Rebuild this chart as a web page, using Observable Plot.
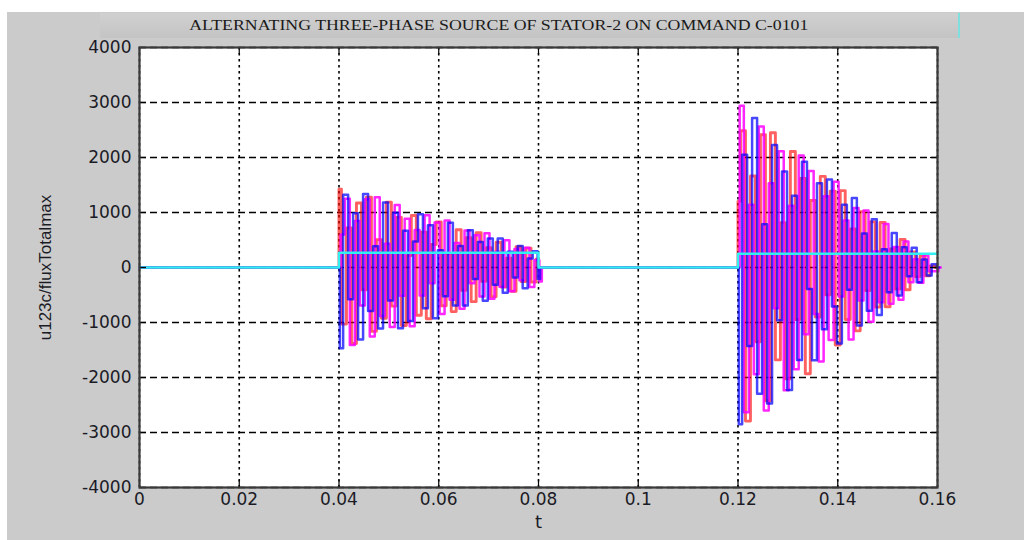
<!DOCTYPE html>
<html>
<head>
<meta charset="utf-8">
<script src="https://cdn.jsdelivr.net/npm/d3@7"></script>
<script src="https://cdn.jsdelivr.net/npm/@observablehq/plot@0.6"></script>
<style>
  html, body { margin: 0; padding: 0; background: #ffffff; }
  #fig { position: relative; width: 1024px; height: 540px; overflow: hidden; background: #ffffff; }
  #panel { position: absolute; left: 7px; top: 12px; right: 0; bottom: 0; background: #cbcbcb; }
  #titlebox { position: absolute; left: 100px; top: 13px; width: 860px; height: 25px;
    background: linear-gradient(#d0d0d0, #c4c4c4); border-right: 2px solid #7fdede; box-sizing: border-box;
    display: flex; align-items: center; justify-content: center; }
  #title { font-family: "Liberation Serif", "DejaVu Serif", serif; font-size: 14px; color: #1a1a1a;
    display: inline-block; transform: scaleX(1.27); transform-origin: center; white-space: nowrap; margin-left: -60px; }
  #chart { position: absolute; left: 0; top: 30px; }
</style>
</head>
<body>
<div id="fig">
  <div id="panel"></div>
  <div id="titlebox"><span id="title">ALTERNATING THREE-PHASE SOURCE OF STATOR-2 ON COMMAND C-0101</span></div>
  <div id="chart"></div>
</div>
<script>
// ---- axis ticks ----
const xTicks = [0, 0.02, 0.04, 0.06, 0.08, 0.1, 0.12, 0.14, 0.16];
const yTicks = [-4000, -3000, -2000, -1000, 0, 1000, 2000, 3000, 4000];

// ---- sampling of the two bursts ----
const burst1Start = 0.04;
const burst2Start = 0.12;
const sampleStep = 0.001;
const phaseShift = { A: 0, B: 0.00033, C: 0.00067 };

// ---- phase values, burst 1 (0.04 .. 0.08) ----
const phaseA1 = [1425, -1029, 720, -1382, 1173, -405, 1280, -1161, 504, -923, 1188, -702, 912, -1055, 216, 945, -867, 644, -931, 419, 828, -696, 252, -802, 686, -413, 540, -621, 634, -252, 360, -530, 459, -357, 168, -432, 378, -254, 353, -264, 150];
const phaseB1 = [-1470, 1323, -576, 987, -1311, 1337, -792, 387, -1109, 1181, -600, 995, -1106, 666, -972, 473, 969, -743, 768, -921, 315, -522, 815, -689, 390, -690, 677, -207, 462, -605, 528, -314, 529, -459, 288, -180, 391, -378, 162, 297, -210];
const phaseC1 = [600, 1250, -1411, 846, -690, 1242, -1254, 1277, -882, 431, -1080, 1135, -513, 888, -1069, 683, -510, 950, -288, 818, -846, 853, -588, 446, -749, 675, -288, 587, -528, 624, -570, 285, -351, 495, -432, 338, -231, 359, -356, 132, -255];

// ---- phase values, burst 2 (0.12 .. 0.16) ----
const phaseA2 = [1200, 2486, -2793, 1665, -1350, 2415, -2423, 2450, -1680, 814, -2025, 2110, -945, 1620, -1931, 1219, -900, 1656, -495, 1386, -1410, 1397, -945, 701, -1152, 1013, -420, 829, -720, 817, -713, 338, -390, 509, -405, 281, -165, 207, -149, 30, 0];
const phaseB2 = [-2850, 2048, -1425, 2720, -2295, 788, -2474, 2228, -960, 1744, -2228, 1305, -1680, 1924, -390, -1688, 1530, -1121, 1601, -709, -1380, 1140, -405, 1262, -1056, 619, -788, 878, -864, 330, -450, 628, -510, 368, -158, 360, -270, 146, -147, 60, 0];
const phaseC2 = [2940, -2633, 1140, -1943, 2565, -2599, 1530, -743, 2112, -2232, 1125, -1849, 2037, -1215, 1755, -844, -1710, 1294, -1320, 1559, -525, 855, -1310, 1084, -600, 1035, -987, 293, -630, 792, -660, 371, -588, 473, -270, 150, -279, 218, -68, -68, 0];

// ---- cyan trace (flux total max level) ----
const fluxT = [0, 0.04, 0.04, 0.08, 0.08, 0.12, 0.12, 0.16];
const fluxV = [0, 0, 270, 270, 0, 0, 250, 250];

function phaseRows(b1, b2, shift) {
  const rows = [{ t: 0, v: 0 }, { t: burst1Start, v: 0 }];
  b1.forEach((v, k) => rows.push({ t: burst1Start + k * sampleStep + shift, v }));
  rows.push({ t: rows[rows.length - 1].t, v: 0 });
  rows.push({ t: burst2Start, v: 0 });
  b2.forEach((v, k) => rows.push({ t: burst2Start + k * sampleStep + shift, v }));
  return rows;
}
const rowsA = phaseRows(phaseA1, phaseA2, phaseShift.A);
const rowsB = phaseRows(phaseB1, phaseB2, phaseShift.B);
const rowsC = phaseRows(phaseC1, phaseC2, phaseShift.C);
const fluxRows = fluxT.map((t, i) => ({ t, v: fluxV[i] }));

const W = 1024, H = 510, ML = 139, MR = 87, MT = 17, MB = 53;
const innerW = W - ML - MR, innerH = H - MT - MB, tickLen = 7;

const chart = Plot.plot({
  width: W, height: H,
  marginLeft: ML, marginRight: MR, marginTop: MT, marginBottom: MB,
  style: { background: "transparent", fontFamily: "DejaVu Sans, sans-serif", fontSize: "17px", color: "#1b1b26" },
  x: { domain: [0, 0.16], ticks: xTicks, tickSize: 0, tickPadding: 5, tickFormat: d => String(d), label: null },
  y: { domain: [-4000, 4000], ticks: yTicks, tickSize: 0, tickPadding: 8, tickFormat: d => String(d), label: null },
  marks: [
    Plot.frame({ fill: "white" }),
    Plot.ruleX(xTicks, { x: d => d, stroke: "black", strokeWidth: 1.6, strokeDasharray: "2.5,3.5" }),
    Plot.ruleY(yTicks, { y: d => d, stroke: "black", strokeWidth: 1.3, strokeDasharray: "7,4" }),
    Plot.line(rowsA, { x: "t", y: "v", curve: "step", stroke: "#ff0000", strokeWidth: 2.9, strokeOpacity: 0.62 }),
    Plot.line(rowsC, { x: "t", y: "v", curve: "step", stroke: "#ff00ff", strokeWidth: 2.5, strokeOpacity: 0.85 }),
    Plot.line(rowsB, { x: "t", y: "v", curve: "step", stroke: "#0000ff", strokeWidth: 2.5, strokeOpacity: 0.72 }),
    Plot.line(fluxRows, { x: "t", y: "v", stroke: "#33f0f0", strokeWidth: 2.5 }),
    Plot.tickX(xTicks, { x: d => d, stroke: "black", strokeWidth: 1.2, insetTop: innerH - tickLen }),
    Plot.tickX(xTicks, { x: d => d, stroke: "black", strokeWidth: 1.2, insetBottom: innerH - tickLen }),
    Plot.tickY(yTicks, { y: d => d, stroke: "black", strokeWidth: 1.2, insetRight: innerW - tickLen }),
    Plot.tickY(yTicks, { y: d => d, stroke: "black", strokeWidth: 1.2, insetLeft: innerW - tickLen }),
    Plot.frame({ stroke: "#3a3a3a", strokeWidth: 2.2 }),
    Plot.text(["u123c/fluxTotalmax"], { frameAnchor: "left", dx: -94, rotate: -90, textAnchor: "middle",
      lineAnchor: "middle", fontSize: 17, fontFamily: "Liberation Sans, Arial, sans-serif", fill: "#1b1b26" }),
    Plot.text(["t"], { frameAnchor: "bottom", dy: 35, textAnchor: "middle", lineAnchor: "middle", fontSize: 18,
      fontFamily: "DejaVu Sans, sans-serif", fill: "#1b1b26" })
  ]
});
document.getElementById("chart").appendChild(chart);
</script>
</body>
</html>
